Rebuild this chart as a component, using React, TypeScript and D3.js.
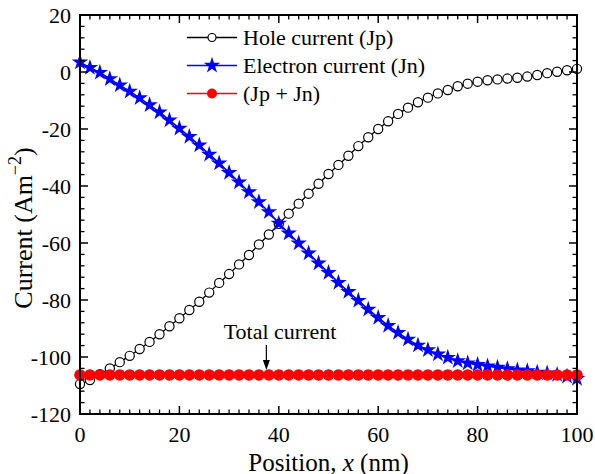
import React from "react";
import * as d3 from "d3";

const positions = [
  0, 2, 4, 6, 8, 10, 12, 14, 16, 18, 20, 22, 24, 26, 28, 30, 32, 34, 36, 38, 40,
  42, 44, 46, 48, 50, 52, 54, 56, 58, 60, 62, 64, 66, 68, 70, 72, 74, 76, 78, 80,
  82, 84, 86, 88, 90, 92, 94, 96, 98, 100,
];

// Hole current (Jp)
const holeCurrent = [
  -109.5, -108.1, -106.0, -104.0, -101.8, -99.6, -97.2, -94.7, -92.0, -89.2, -86.4,
  -83.5, -80.6, -77.4, -74.0, -70.9, -67.5, -64.2, -60.5, -57.0, -53.3,
  -49.7, -46.2, -42.7, -39.2, -35.8, -32.6, -29.4, -26.0, -22.9, -20.0,
  -17.3, -14.7, -12.5, -10.6, -9.0, -7.5, -6.3, -5.0, -4.1, -3.4,
  -2.9, -2.6, -2.3, -2.0, -1.6, -1.05, -0.4, 0.1, 0.6, 1.1,
];

// Electron current (Jn)
const electronCurrent = [
  3.4, 1.5, -0.2, -2.4, -4.6, -6.8, -9.1, -11.6, -14.1, -16.9, -19.8,
  -22.7, -25.7, -28.9, -32.0, -35.3, -38.7, -42.1, -45.6, -49.1, -53.1,
  -56.6, -60.1, -63.6, -67.1, -70.4, -73.9, -77.1, -80.2, -83.3, -86.2,
  -89.0, -91.5, -93.8, -95.9, -97.5, -99.0, -100.2, -101.4, -102.2, -102.7,
  -103.2, -103.7, -104.2, -104.6, -104.9, -105.4, -105.7, -106.2, -106.8, -107.6,
];

// Total (Jp + Jn)
const totalCurrent = [
  -106.3, -106.3, -106.3, -106.3, -106.3, -106.3, -106.3, -106.3, -106.3, -106.3, -106.3,
  -106.3, -106.3, -106.3, -106.3, -106.3, -106.3, -106.3, -106.3, -106.3, -106.3,
  -106.3, -106.3, -106.3, -106.3, -106.3, -106.3, -106.3, -106.3, -106.3, -106.3,
  -106.3, -106.3, -106.3, -106.3, -106.3, -106.3, -106.3, -106.3, -106.3, -106.3,
  -106.3, -106.3, -106.3, -106.3, -106.3, -106.3, -106.3, -106.3, -106.3, -106.3,
];

const xTicks = [0, 20, 40, 60, 80, 100];
const yTicks = [20, 0, -20, -40, -60, -80, -100, -120];

const FONT = "'Liberation Serif', 'Times New Roman', serif";

const W = 595;
const H = 474;
const left = 80;
const right = 577;
const top = 15;
const bottom = 414;

export default function App() {
  const x = d3.scaleLinear().domain([0, 100]).range([left, right]);
  const y = d3.scaleLinear().domain([-120, 20]).range([bottom, top]);

  const line = (vals: number[]) =>
    d3
      .line<number>()
      .x((_, i) => x(positions[i]))
      .y((d) => y(d))(vals) as string;

  const star = d3.symbol().type(d3.symbolStar).size(85)() as string;
  const xMinor = d3.range(0, 101, 2).filter((v) => v % 20 !== 0);
  const yMinor = d3.range(-120, 21, 4).filter((v) => v % 20 !== 0);

  const legendRows = [
    { label: "Hole current (Jp)", color: "#000", kind: "circle" },
    { label: "Electron current (Jn)", color: "#0000ff", kind: "star" },
    { label: "(Jp + Jn)", color: "#ff0000", kind: "dot" },
  ];

  return (
    <svg
      width={W}
      height={H}
      style={{ position: "absolute", left: 0, top: 0, background: "#fff" }}
      fontFamily={FONT}
    >
      {/* series */}
      <path d={line(holeCurrent)} fill="none" stroke="#000" strokeWidth={1.3} />
      {holeCurrent.map((v, i) => (
        <circle
          key={"p" + i}
          cx={x(positions[i])}
          cy={y(v)}
          r={4.6}
          fill="#fff"
          stroke="#000"
          strokeWidth={1.2}
        />
      ))}
      <path d={line(electronCurrent)} fill="none" stroke="#0000ff" strokeWidth={1.6} />
      {electronCurrent.map((v, i) => (
        <path
          key={"n" + i}
          d={star}
          transform={`translate(${x(positions[i])},${y(v)})`}
          fill="#0000ff"
        />
      ))}
      <path d={line(totalCurrent)} fill="none" stroke="#ff0000" strokeWidth={1.5} />
      {totalCurrent.map((v, i) => (
        <circle key={"t" + i} cx={x(positions[i])} cy={y(v)} r={5.8} fill="#ff0000" />
      ))}

      {/* frame */}
      <rect
        x={left}
        y={top}
        width={right - left}
        height={bottom - top}
        fill="none"
        stroke="#000"
        strokeWidth={2}
      />

      {/* x ticks */}
      {xTicks.map((t) => (
        <g key={"xt" + t}>
          <line x1={x(t)} x2={x(t)} y1={bottom} y2={bottom - 8} stroke="#000" strokeWidth={1.5} />
          <line x1={x(t)} x2={x(t)} y1={top} y2={top + 8} stroke="#000" strokeWidth={1.5} />
          <text x={x(t)} y={bottom + 28} textAnchor="middle" fontSize={22}>
            {t}
          </text>
        </g>
      ))}
      {xMinor.map((t) => (
        <g key={"xm" + t}>
          <line x1={x(t)} x2={x(t)} y1={bottom} y2={bottom - 4.5} stroke="#000" strokeWidth={1.3} />
          <line x1={x(t)} x2={x(t)} y1={top} y2={top + 4.5} stroke="#000" strokeWidth={1.3} />
        </g>
      ))}

      {/* y ticks */}
      {yTicks.map((t) => (
        <g key={"yt" + t}>
          <line x1={left} x2={left + 8} y1={y(t)} y2={y(t)} stroke="#000" strokeWidth={1.5} />
          <line x1={right} x2={right - 8} y1={y(t)} y2={y(t)} stroke="#000" strokeWidth={1.5} />
          <text x={left - 9} y={y(t) + 7.5} textAnchor="end" fontSize={22}>
            {t}
          </text>
        </g>
      ))}
      {yMinor.map((t) => (
        <g key={"ym" + t}>
          <line x1={left} x2={left + 4.5} y1={y(t)} y2={y(t)} stroke="#000" strokeWidth={1.3} />
          <line x1={right} x2={right - 4.5} y1={y(t)} y2={y(t)} stroke="#000" strokeWidth={1.3} />
        </g>
      ))}

      {/* axis titles */}
      <text x={(left + right) / 2} y={470.5} textAnchor="middle" fontSize={25}>
        Position, <tspan fontStyle="italic">x</tspan> (nm)
      </text>
      <text
        transform={`translate(32,${228}) rotate(-90)`}
        textAnchor="middle"
        fontSize={26}
      >
        Current (Am
        <tspan dy={-11} fontSize={18}>
          −2
        </tspan>
        <tspan dy={11}>)</tspan>
      </text>

      {/* legend */}
      {legendRows.map((r, i) => {
        const ly = 37.5 + i * 28;
        return (
          <g key={"lg" + i}>
            <line x1={187} x2={237} y1={ly} y2={ly} stroke={r.color} strokeWidth={1.5} />
            {r.kind === "circle" && (
              <circle cx={212} cy={ly} r={4} fill="#fff" stroke="#000" strokeWidth={1.2} />
            )}
            {r.kind === "star" && (
              <path d={star} transform={`translate(212,${ly})`} fill={r.color} />
            )}
            {r.kind === "dot" && <circle cx={212} cy={ly} r={5} fill={r.color} />}
            <text x={243} y={ly + 7.5} fontSize={22}>
              {r.label}
            </text>
          </g>
        );
      })}

      {/* annotation */}
      <text x={280} y={339} textAnchor="middle" fontSize={22}>
        Total current
      </text>
      <line x1={x(37.5)} x2={x(37.5)} y1={345} y2={364} stroke="#000" strokeWidth={1.2} />
      <path
        d={`M${x(37.5) - 3.5},${360} L${x(37.5) + 3.5},${360} L${x(37.5)},${370} Z`}
        fill="#000"
      />
    </svg>
  );
}
